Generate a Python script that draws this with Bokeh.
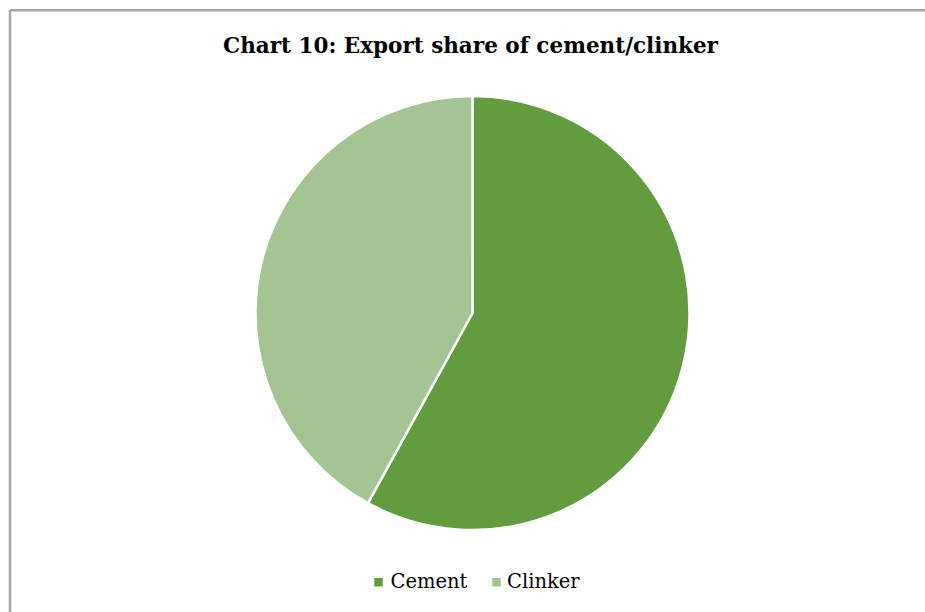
import numpy as np
from bokeh.plotting import figure
from bokeh.models import Range1d, ColumnDataSource
from bokeh.core.properties import value
from bokeh.embed import file_html
from bokeh.resources import INLINE

title_text = "Chart 10: Export share of cement/clinker"
categories = ["Cement", "Clinker"]
shares = [58.0, 42.0]
colors = ["#639B3F", "#A3C493"]

W, H = 925, 612
p = figure(width=W, height=H, output_backend="svg", toolbar_location=None,
           x_range=Range1d(0, W), y_range=Range1d(0, H),
           min_border=0)
p.axis.visible = False
p.grid.visible = False
p.outline_line_color = None
p.background_fill_color = "white"
p.border_fill_color = "white"

def Y(page_y):
    return 612 - page_y

# chart frame (left and top edges visible)
p.line(x=[9.5, 9.5], y=[Y(9.5), Y(620)], line_color="#A6A6A6", line_width=2.5)
p.line(x=[9.5, 930], y=[Y(9.8), Y(9.8)], line_color="#A6A6A6", line_width=2.5)

# pie
cx, cy, r = 472, Y(312.5), 217
vals = np.array(shares)
frac = vals / vals.sum()
ends = np.pi / 2 - 2 * np.pi * np.cumsum(frac)
starts = np.concatenate([[np.pi / 2], ends[:-1]])
src = ColumnDataSource(dict(cat=categories, start=starts, end=ends, color=colors))
p.wedge(x=cx, y=cy, radius=r, start_angle="start", end_angle="end",
        direction="clock", fill_color="color", line_color="white",
        line_width=2.5, source=src)

# title
p.text(x=[470], y=[Y(44.5)], text=[title_text], text_align="center",
       text_baseline="alphabetic", text_font=value("DejaVu Serif"),
       text_font_style="bold", text_font_size="21.5px", text_color="#000000")

# legend
leg_x = [378, 496]
leg_tx = [390, 506.5]
p.scatter(x=leg_x, y=[Y(581.7)] * 2, marker="square", size=8.5,
          fill_color=colors, line_color=None)
p.text(x=leg_tx, y=[Y(581)] * 2, text=categories, text_align="left",
       text_baseline="alphabetic", text_font=value("DejaVu Serif"),
       text_font_size="19.5px", text_color="#000000")

open("out.html", "w").write(file_html(p, INLINE))
